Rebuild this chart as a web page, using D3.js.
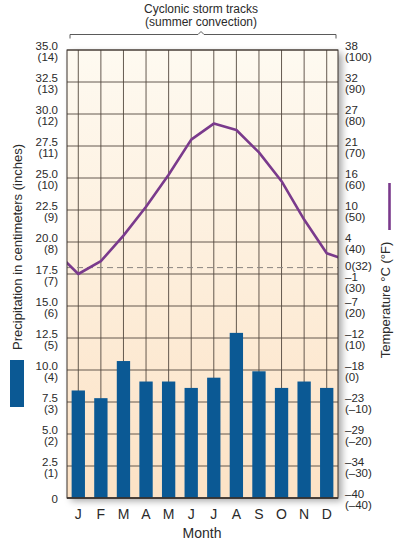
<!DOCTYPE html>
<html>
<head>
<meta charset="utf-8">
<script src="https://cdn.jsdelivr.net/npm/d3@7"></script>
<style>
  html, body { margin: 0; padding: 0; background: #fff; }
  svg { display: block; font-family: "Liberation Sans", Arial, Helvetica, sans-serif; }
  .tick-label { font-size: 11.5px; fill: #2a2a2a; }
  .note-label { font-size: 12px; fill: #2a2a2a; }
  .month-label { font-size: 14px; fill: #2a2a2a; }
  .axis-title { font-size: 13px; fill: #2a2a2a; }
</style>
</head>
<body>
<svg id="chart" width="395" height="539"></svg>
<script>
const W = 395, H = 539;

// ---- data ----
const months = ["J", "F", "M", "A", "M", "J", "J", "A", "S", "O", "N", "D"];
const precipCm = [8.4, 7.8, 10.7, 9.1, 9.1, 8.6, 9.4, 12.9, 9.9, 8.6, 9.1, 8.6];
const tempF = [30, 34, 42, 51, 61, 72, 77, 75, 68, 59, 47, 36.5];
const tempPrevDec = 37;   // line comes in from the left edge
const tempNextJan = 34;   // line runs out at the right edge
const precipTicks = [0, 2.5, 5, 7.5, 10, 12.5, 15, 17.5, 20, 22.5, 25, 27.5, 30, 32.5, 35];
const tempTicksF = [100, 90, 80, 70, 60, 50, 40, 30, 20, 10, 0, -10, -20, -30, -40];
const freezingF = 32;
const topNote = ["Cyclonic storm tracks", "(summer convection)"];

const plot = {left: 67, right: 338, top: 50, bottom: 498};

const svg = d3.select("#chart");
const defs = svg.append("defs");

const grad = defs.append("linearGradient")
    .attr("id", "bgGrad").attr("x1", 0).attr("y1", 0).attr("x2", 0).attr("y2", 1);
grad.append("stop").attr("offset", "0%").attr("stop-color", "#fefaf1");
grad.append("stop").attr("offset", "100%").attr("stop-color", "#fce2c5");

const shadow = defs.append("filter").attr("id", "shadow")
    .attr("x", "-10%").attr("y", "-10%").attr("width", "130%").attr("height", "130%");
shadow.append("feDropShadow")
    .attr("dx", 4).attr("dy", 3).attr("stdDeviation", 3.5)
    .attr("flood-color", "#000").attr("flood-opacity", 0.35);

defs.append("clipPath").attr("id", "plotClip")
    .append("rect")
    .attr("x", plot.left).attr("y", plot.top)
    .attr("width", plot.right - plot.left).attr("height", plot.bottom - plot.top);

//------------ Scales ------------------------------------------------------------//
const x = d3.scaleBand().domain(d3.range(months.length)).range([plot.left, plot.right]).padding(0);
const step = x.step();
const cx = i => plot.left + step * (i + 0.5);
const yP = d3.scaleLinear().domain([0, 35]).range([plot.bottom, plot.top]);
const yT = d3.scaleLinear().domain([-40, 100]).range([plot.bottom, plot.top]);

//------------ Plot background -----------------------------------------------------//
svg.append("rect")
    .attr("x", plot.left).attr("y", plot.top)
    .attr("width", plot.right - plot.left).attr("height", plot.bottom - plot.top)
    .attr("fill", "url(#bgGrad)")
    .attr("filter", "url(#shadow)");

//------------ Grid -----------------------------------------------------------------//
const grid = svg.append("g").attr("stroke", "#54483e").attr("stroke-width", 0.9);
grid.selectAll("line.h")
    .data(precipTicks)
    .join("line")
    .attr("x1", plot.left).attr("x2", plot.right)
    .attr("y1", d => yP(d)).attr("y2", d => yP(d));
grid.selectAll("line.v")
    .data(d3.range(months.length))
    .join("line")
    .attr("x1", d => cx(d)).attr("x2", d => cx(d))
    .attr("y1", plot.top).attr("y2", plot.bottom);

// freezing line
svg.append("line")
    .attr("x1", plot.left).attr("x2", plot.right)
    .attr("y1", yT(freezingF)).attr("y2", yT(freezingF))
    .attr("stroke", "#8a8580").attr("stroke-width", 1)
    .attr("stroke-dasharray", "6,4");

//------------ Bars -----------------------------------------------------------------//
const barW = step * 0.59;
svg.append("g")
    .selectAll("rect")
    .data(precipCm)
    .join("rect")
    .attr("x", (d, i) => cx(i) - barW / 2)
    .attr("y", d => yP(d))
    .attr("width", barW)
    .attr("height", d => yP(0) - yP(d))
    .attr("fill", "#0b5994");

//------------ Temperature line -----------------------------------------------------//
const tempPts = [[-1, tempPrevDec], ...tempF.map((v, i) => [i, v]), [12, tempNextJan]];
svg.append("path")
    .datum(tempPts)
    .attr("clip-path", "url(#plotClip)")
    .attr("fill", "none")
    .attr("stroke", "#7a3a8c")
    .attr("stroke-width", 2.6)
    .attr("stroke-linejoin", "round")
    .attr("d", d3.line().x(d => cx(d[0])).y(d => yT(d[1])));

// frame
svg.append("rect")
    .attr("x", plot.left).attr("y", plot.top)
    .attr("width", plot.right - plot.left).attr("height", plot.bottom - plot.top)
    .attr("fill", "none").attr("stroke", "#3a322c").attr("stroke-width", 1);
svg.append("line")
    .attr("x1", plot.left).attr("x2", plot.right)
    .attr("y1", plot.bottom).attr("y2", plot.bottom)
    .attr("stroke", "#3a322c").attr("stroke-width", 1.6);

//------------ Axes -----------------------------------------------------------------//
const dash = s => String(s).replace("-", "\u2013");

function twoLineLabels(g, anchor, tx, lines) {
    g.selectAll(".tick text").each(function(d) {
        const t = d3.select(this)
            .attr("class", "tick-label")
            .attr("x", tx).attr("dy", null).attr("text-anchor", anchor)
            .text(null);
        const [a, b, shift] = lines(d);
        t.append("tspan").attr("x", tx).attr("y", b ? -0.5 + shift : 4).text(a);
        if (b) t.append("tspan").attr("x", tx).attr("y", 10.8 + shift).text(b);
    });
}

const leftAxis = svg.append("g")
    .attr("transform", `translate(${plot.left},0)`)
    .call(d3.axisLeft(yP).tickValues(precipTicks).tickSize(0));
leftAxis.select(".domain").remove();
twoLineLabels(leftAxis, "end", -9, d => d === 0
    ? ["0", null, 0]
    : [d.toFixed(1), `(${d / 2.5})`, 0]);

const rightAxis = svg.append("g")
    .attr("transform", `translate(${plot.right},0)`)
    .call(d3.axisRight(yT).tickValues(tempTicksF).tickSize(0));
rightAxis.select(".domain").remove();
twoLineLabels(rightAxis, "start", 7, d => [
    dash(Math.round((d - 32) * 5 / 9)),
    `(${dash(d)})`,
    d === 30 ? 7 : 0
]);
rightAxis.append("text")
    .attr("class", "tick-label")
    .attr("x", 7).attr("y", yT(freezingF) + 2.5)
    .attr("text-anchor", "start")
    .text(`0(${freezingF})`);

const bottomAxis = svg.append("g")
    .attr("transform", `translate(0,${plot.bottom})`)
    .call(d3.axisBottom(x).tickSize(0).tickFormat(i => months[i]));
bottomAxis.select(".domain").remove();
bottomAxis.selectAll(".tick text")
    .attr("class", "month-label")
    .attr("y", 20.5).attr("dy", null);

svg.append("text")
    .attr("class", "month-label")
    .attr("x", (plot.left + plot.right) / 2 - 0.5).attr("y", 537.5)
    .attr("text-anchor", "middle")
    .text("Month");

//------------ Axis titles and legend keys ------------------------------------------//
svg.append("text")
    .attr("class", "axis-title")
    .attr("transform", "translate(21.5,247) rotate(-90)")
    .attr("text-anchor", "middle")
    .text("Precipitation in centimeters (inches)");
svg.append("rect")
    .attr("x", 10).attr("y", 360).attr("width", 14).attr("height", 47)
    .attr("fill", "#0b5994");

svg.append("text")
    .attr("class", "axis-title")
    .attr("transform", "translate(389.5,300) rotate(-90)")
    .attr("text-anchor", "middle")
    .text("Temperature \u00B0C (\u00B0F)");
svg.append("line")
    .attr("x1", 389.5).attr("x2", 389.5).attr("y1", 183).attr("y2", 230)
    .attr("stroke", "#7a3a8c").attr("stroke-width", 2.6);

//------------ Top bracket note -------------------------------------------------------//
const mid = (plot.left + plot.right) / 2 - 1.5;
svg.append("path")
    .attr("fill", "none").attr("stroke", "#5a5a5a").attr("stroke-width", 1)
    .attr("d", `M70,38.5 L70,34.5 L${mid - 3},34.5 L${mid},31.5 L${mid + 3},34.5 L336,34.5 L336,38.5`);
svg.append("text")
    .attr("class", "note-label")
    .attr("text-anchor", "middle")
    .selectAll("tspan")
    .data(topNote)
    .join("tspan")
    .attr("x", mid).attr("y", (d, i) => 12.5 + i * 13)
    .text(d => d);
</script>
</body>
</html>
